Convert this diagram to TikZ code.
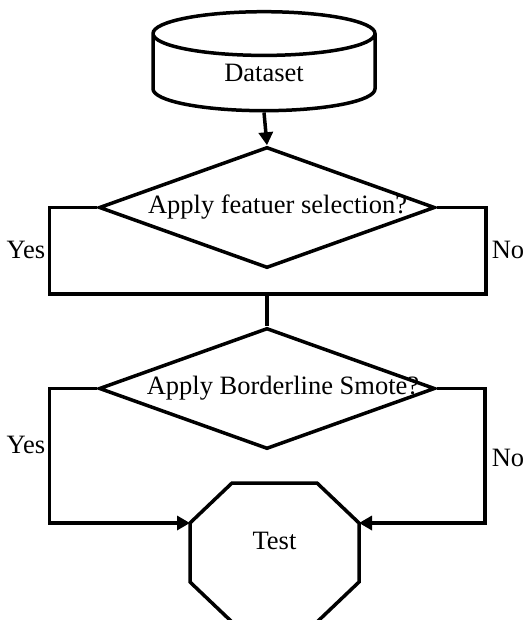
\documentclass[tikz,border=0pt]{standalone}
\usepackage{fontspec}
\setmainfont{Liberation Serif}
\usetikzlibrary{shapes.geometric,arrows.meta}
\begin{document}
\begin{tikzpicture}[
    x=1pt, y=-1pt,
    >={Triangle[length=13pt,width=14pt]},
    line width=3.5pt,
    every node/.style={font=\fontsize{26.5}{31}\selectfont},
    datastore/.style={
        draw, cylinder, shape border rotate=90, aspect=0.55,
        minimum width=222pt, minimum height=99pt,
        inner sep=0pt
    },
    decision/.style={
        draw, diamond,
        minimum width=336pt, minimum height=121pt,
        inner sep=0pt
    },
    endbox/.style={
        rectangle, outer sep=0pt,
        minimum width=169pt, minimum height=139pt,
        inner sep=0pt
    },
    branchlbl/.style={inner sep=0pt}
]
\useasboundingbox (0,0) rectangle (526,620);

% Datenquelle
\node[datastore] (data) at (264,73) {Dataset};

% =========================================================
% Entscheidungen
% =========================================================
\node[decision, label={[xshift=10.5pt]center:Apply featuer selection?}]
    (q1) at (267,207.5) {};
\coordinate (join) at (267,294);

\node[decision, label={[xshift=16pt]center:Apply Borderline Smote?}]
    (q2) at (267,388.5) {};

% Testen (Achteck mit abgeschraegten Ecken)
\node[endbox, label={[yshift=12pt]center:Test}] (test) at (274.5,552.5) {};
\draw ([xshift=42pt]test.north west) -- ([xshift=-42pt]test.north east)
    -- ([yshift=-40pt]test.north east) -- ([yshift=40pt]test.south east)
    -- ([xshift=-42pt]test.south east) -- ([xshift=42pt]test.south west)
    -- ([yshift=40pt]test.south west) -- ([yshift=-40pt]test.north west)
    -- cycle;

% =========================================================
% Verbindungen
% =========================================================
\draw[->] (data.south) -- (q1.north);

\draw (q1.west) -- ++(-48,0) |- (join);
\draw (q1.east) -- ++(49,0) |- (join);
\draw (join) -- (q2.north);

\draw[->] (q2.west) -- ++(-48,0) |- ([yshift=-40pt]test.north west);
\draw[->] (q2.east) -- ++(48,0) |- ([yshift=-40pt]test.north east);

% Beschriftungen
\node[branchlbl, anchor=east] (yes1) at (47,250) {Yes};
\node[branchlbl, anchor=west] (no1) at (490,250) {No};
\node[branchlbl, anchor=east] (yes2) at (47,445) {Yes};
\node[branchlbl, anchor=west] (no2) at (490,458) {No};

\end{tikzpicture}
\end{document}
